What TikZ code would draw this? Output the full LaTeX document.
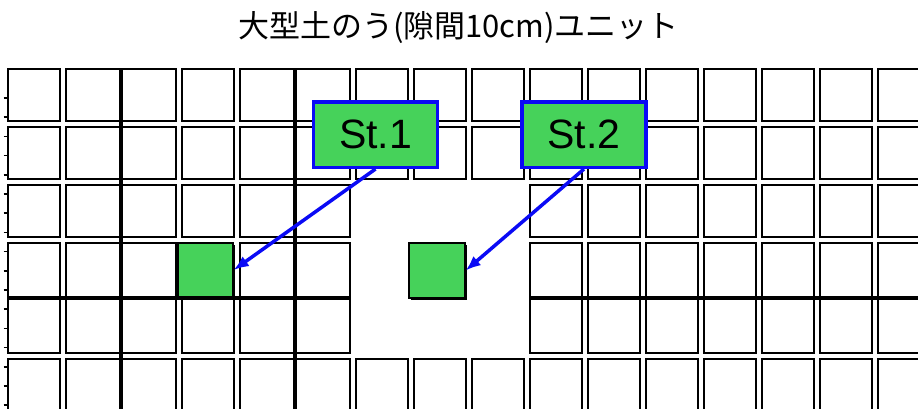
\documentclass[tikz,border=0pt]{standalone}
\usepackage{fontspec}
\setmainfont{Liberation Sans}
\newfontfamily\jpfont{Noto Sans CJK JP}
\usetikzlibrary{arrows.meta}
\definecolor{gr}{RGB}{70,210,90}
\definecolor{bl}{RGB}{10,10,245}
\begin{document}
\begin{tikzpicture}[x=1pt,y=-1pt,
  cell/.style={draw=black,line width=2pt,fill=white},
  bar/.style={fill=black},
  tick/.style={draw=black,line width=1.6pt},
  gsq/.style={draw=black,line width=1.4pt,fill=gr,inner sep=0pt,
    preaction={fill=black,transform canvas={shift={(2pt,-2pt)}}}},
  lbl/.style={draw=bl,line width=3.5pt,fill=gr,minimum width=124pt,
    minimum height=65.5pt,inner sep=0pt,font=\fontsize{41}{41}\selectfont},
  arr/.style={draw=bl,line width=3.5pt,-{Latex[length=15pt,width=12pt]}}]
\useasboundingbox (0,0) rectangle (918,408);
\fill[white] (0,0) rectangle (918,408);
\begin{scope}
\clip (0,0) rectangle (918,408);
\foreach \c in {0,...,15}{
  \foreach \r in {0,...,5}{
    \pgfmathtruncatemacro\skipit{(\c>5)*(\c<9)*(\r>1)*(\r<5)+(\c==3)*(\r==3)}
    \pgfmathsetmacro\eL{2*((\c==2)+(\c==5))}
    \pgfmathsetmacro\eR{2*((\c==1)+(\c==4))}
    \pgfmathsetmacro\eT{2*(\r==4)}
    \pgfmathsetmacro\eB{2*(\r==3)}
    \ifnum\skipit=0
      \draw[cell] ({8+58*\c-\eL},{69+58*\r-\eT}) rectangle ({60+58*\c+\eR},{121+58*\r+\eB});
    \fi
  }
}
\fill[bar] (119,68) rectangle (123,408);
\fill[bar] (293,68) rectangle (297,408);
\fill[bar] (7,296) rectangle (351,300);
\fill[bar] (529,296) rectangle (918,300);
\foreach \k in {0,...,16}{
  \draw[tick] (3.5,{98+19.2*\k}) -- (7,{98+19.2*\k});
}
\end{scope}
\node[font=\jpfont\fontsize{31}{31}\selectfont] (title) at (458.5,28) {大型土のう(隙間10cm)ユニット};
\node[gsq,minimum width=55pt,minimum height=54pt] (g1) at (205.5,270) {};
\node[gsq,minimum width=56pt,minimum height=55pt] (g2) at (437,270.5) {};
\node[lbl] (st1) at (375.5,134.5) {St.1};
\node[lbl] (st2) at (584,134.5) {St.2};
\draw[arr] (st1.south) -- (g1.east);
\draw[arr] (st2.south) -- (g2.east);
\end{tikzpicture}
\end{document}
